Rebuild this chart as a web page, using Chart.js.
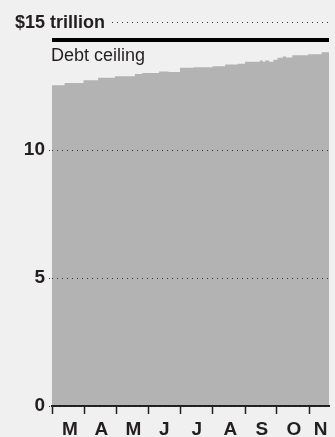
<!DOCTYPE html>
<html>
<head>
<meta charset="utf-8">
<script src="https://cdn.jsdelivr.net/npm/chart.js@4/dist/chart.umd.min.js"></script>
<style>
  html, body { margin: 0; padding: 0; background: #f0f0f0; }
  #wrap { width: 335px; height: 437px; }
</style>
</head>
<body>
<div id="wrap"><canvas id="debtChart" width="335" height="437"></canvas></div>
<script>
// Federal debt outstanding, $ trillion, by day since March 1 (step levels)
const debtDays   = [0, 12, 30, 44, 60, 79, 86, 102, 111, 122, 135, 153, 165, 177, 184, 198, 201, 203, 207, 211, 215, 220, 223, 229, 244, 257, 264];
const debtValues = [12.53, 12.62, 12.72, 12.82, 12.88, 12.97, 13.01, 13.07, 13.05, 13.21, 13.23, 13.27, 13.34, 13.37, 13.45, 13.50, 13.45, 13.50, 13.45, 13.53, 13.60, 13.65, 13.61, 13.70, 13.74, 13.82, 13.82];

const debtCeiling = 14.294;
const ceilingLabel = 'Debt ceiling';

// x axis: month boundaries get tick marks, month letters sit mid-month
const months      = ['M', 'A', 'M', 'J', 'J', 'A', 'S', 'O', 'N'];
const monthStarts = [0, 31, 61, 92, 122, 153, 184, 214, 245];
const monthMids   = [17, 47, 77.5, 107, 138, 170, 200, 230.5, 256];
const dayMax = 264;

const yTicks = [0, 5, 10, 15];
const topLabel = '$15 trillion';

const FONT = "'Liberation Sans', Arial, sans-serif";
const BG = '#f0f0f0';
const TEXT = '#231f20';
const AREA = '#b3b3b3';
const DOTS = '#333';

const debtPoints = debtDays.map((d, i) => ({ x: d, y: debtValues[i] }));
const ceilingPoints = [{ x: 0, y: debtCeiling }, { x: dayMax, y: debtCeiling }];

// Writes the top unit label and the ceiling caption
const labelPlugin = {
    id: 'chartLabels',
    afterDraw(chart) {
        const { ctx, chartArea } = chart;
        const y = chart.scales.y;
        const yTop = y.getPixelForValue(yTicks[yTicks.length - 1]);

        ctx.save();
        ctx.font = `bold 18px ${FONT}`;
        const w = ctx.measureText(topLabel).width;
        ctx.fillStyle = BG;
        ctx.fillRect(40, yTop - 3, 15 + w + 5 - 40, 6);
        ctx.fillStyle = TEXT;
        ctx.textBaseline = 'middle';
        ctx.fillText(topLabel, 15, yTop + 1);

        ctx.font = `18px ${FONT}`;
        ctx.textBaseline = 'alphabetic';
        ctx.fillText(ceilingLabel, chartArea.left - 1, y.getPixelForValue(debtCeiling) + 21);
        ctx.restore();
    }
};

new Chart(document.getElementById('debtChart'), {
    type: 'line',
    data: {
        datasets: [
            {
                label: 'Debt',
                data: debtPoints,
                stepped: true,
                fill: 'origin',
                backgroundColor: AREA,
                borderWidth: 0,
                pointRadius: 0,
                order: 2
            },
            {
                label: 'Ceiling',
                data: ceilingPoints,
                borderColor: '#000',
                borderWidth: 4,
                borderCapStyle: 'butt',
                pointRadius: 0,
                fill: false,
                order: 1
            }
        ]
    },
    options: {
        responsive: false,
        animation: false,
        layout: { padding: { top: 22, right: 6, left: 0, bottom: 0 } },
        plugins: {
            legend: { display: false },
            tooltip: { enabled: false }
        },
        scales: {
            x: {
                type: 'linear',
                min: 0,
                max: dayMax,
                position: 'bottom',
                afterBuildTicks: scale => { scale.ticks = monthStarts.map(v => ({ value: v })); },
                afterFit: scale => { scale.height = 8; },
                ticks: { display: false },
                grid: {
                    drawOnChartArea: false,
                    drawTicks: true,
                    tickLength: 8,
                    tickWidth: 1.5,
                    tickColor: TEXT,
                    color: TEXT,
                    z: 1
                },
                border: { display: true, color: TEXT, width: 2, z: 1 }
            },
            x2: {
                type: 'linear',
                min: 0,
                max: dayMax,
                position: 'bottom',
                afterBuildTicks: scale => { scale.ticks = monthMids.map(v => ({ value: v })); },
                afterFit: scale => { scale.height = 23; },
                ticks: {
                    autoSkip: false,
                    maxRotation: 0,
                    padding: 4,
                    color: TEXT,
                    font: { family: FONT, size: 19, weight: 'bold' },
                    callback: (v, i) => months[i]
                },
                grid: { display: false, drawTicks: false },
                border: { display: false }
            },
            y: {
                min: 0,
                max: 15,
                afterBuildTicks: scale => { scale.ticks = yTicks.map(v => ({ value: v })); },
                afterFit: scale => { scale.width = 52; },
                ticks: {
                    padding: 4,
                    color: TEXT,
                    font: { family: FONT, size: 19, weight: 'bold' },
                    callback: v => (v === 15 ? '' : v)
                },
                grid: {
                    color: DOTS,
                    lineWidth: 1,
                    tickLength: 3,
                    borderDash: [1, 4],
                    tickBorderDash: [1, 4],
                    tickColor: DOTS,
                    z: 1
                },
                border: { display: false, dash: [1, 4] }
            }
        }
    },
    plugins: [labelPlugin]
});
</script>
</body>
</html>
